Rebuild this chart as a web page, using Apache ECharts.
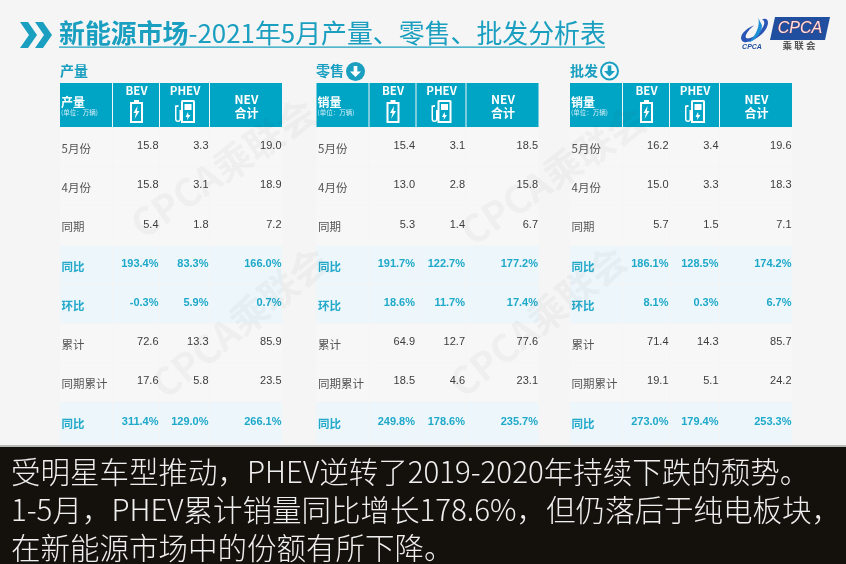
<!DOCTYPE html>
<html>
<head>
<meta charset="utf-8">
<style>html,body{margin:0;padding:0;background:#f5f5f5}#chart{width:846px;height:564px}</style>
<script src="https://cdn.jsdelivr.net/npm/echarts@6/dist/echarts.min.js"></script>
</head>
<body>
<div id="chart"></div>
<script>
const rowLabels = ['5月份', '4月份', '同期', '同比', '环比', '累计', '同期累计', '同比'];
const accentRows = [3, 4, 7];
const columnNames = ['BEV', 'PHEV', 'NEV'];

const tableTitles = ['产量', '零售', '批发'];
const headerNames = ['产量', '销量', '销量'];
const unitLabel = '(单位：万辆)';
const totalLabel = '合计';

const prodBev = ['15.8', '15.8', '5.4', '193.4%', '-0.3%', '72.6', '17.6', '311.4%'];
const prodPhev = ['3.3', '3.1', '1.8', '83.3%', '5.9%', '13.3', '5.8', '129.0%'];
const prodNev = ['19.0', '18.9', '7.2', '166.0%', '0.7%', '85.9', '23.5', '266.1%'];

const retailBev = ['15.4', '13.0', '5.3', '191.7%', '18.6%', '64.9', '18.5', '249.8%'];
const retailPhev = ['3.1', '2.8', '1.4', '122.7%', '11.7%', '12.7', '4.6', '178.6%'];
const retailNev = ['18.5', '15.8', '6.7', '177.2%', '17.4%', '77.6', '23.1', '235.7%'];

const wholesaleBev = ['16.2', '15.0', '5.7', '186.1%', '8.1%', '71.4', '19.1', '273.0%'];
const wholesalePhev = ['3.4', '3.3', '1.5', '128.5%', '0.3%', '14.3', '5.1', '179.4%'];
const wholesaleNev = ['19.6', '18.3', '7.1', '174.2%', '6.7%', '85.7', '24.2', '253.3%'];

const tableColumns = [
    [prodBev, prodPhev, prodNev],
    [retailBev, retailPhev, retailNev],
    [wholesaleBev, wholesalePhev, wholesaleNev]
];

const captionLines = [
    '受明星车型推动，PHEV逆转了2019-2020年持续下跌的颓势。',
    '1-5月，PHEV累计销量同比增长178.6%，但仍落后于纯电板块，',
    '在新能源市场中的份额有所下降。'
];

// layout of the tables, in pixels of the picture
const tableLefts = [60, 316.5, 570];
const tableTop = 83;
const tableWidth = 223;
const tableHeight = 362;
const colEdges = [0, 53, 100, 150, 223];
const rowEdges = [0, 44, 83, 122, 162, 201, 240, 279, 318, 360];

const teal = '#00a4c5';
const titleColor = '#1a9fc0';
const cjk = '"Noto Sans CJK SC"';
const latin = '"Liberation Sans"';

const myChart = echarts.init(document.getElementById('chart'), null, {renderer: 'canvas'});

const batteryPath = 'M4 0H9V2H13V23H0V2H4ZM2 4V21H11V4ZM7.5 6L3.5 13H6L4.5 19L9.5 11H7Z';
const chargerPath = 'M8 0H19A1.5 1.5 0 0 1 20.5 1.5V23H6.5V1.5A1.5 1.5 0 0 1 8 0ZM8.5 2V21H18.5V2ZM10 4H17V10H10ZM13.5 12L11 17H13L12.5 20L16 15H14ZM4 5V7H2V19A1.5 1.5 0 0 0 5 19V10H6.5V19A3 3 0 0 1 0.5 19V5.5Z';

const headerCell = (params, api, tableIndex) => {
    const col = params.dataIndex;
    const p0 = api.coord([colEdges[col], rowEdges[0]]);
    const p1 = api.coord([colEdges[col + 1], rowEdges[1]]);
    const children = [{
        type: 'rect',
        shape: {x: p0[0], y: p0[1], width: p1[0] - p0[0] - 1, height: p1[1] - p0[1]},
        style: {fill: teal}
    }];
    const midX = (p0[0] + p1[0]) / 2;
    if (col === 0) {
        children.push({type: 'text', style: {x: p0[0] + 1, y: p0[1] + 19, text: headerNames[tableIndex], fill: '#fff', font: `bold 12px ${cjk}`, verticalAlign: 'middle'}});
        children.push({type: 'text', style: {x: p0[0] + 1, y: p0[1] + 30, text: unitLabel, fill: '#d5eef5', font: `6.5px ${cjk}`, verticalAlign: 'middle'}});
    } else if (col === 3) {
        children.push({type: 'text', style: {x: midX, y: p0[1] + 16, text: columnNames[2], fill: '#fff', font: `bold 12px ${cjk}`, align: 'center', verticalAlign: 'middle'}});
        children.push({type: 'text', style: {x: midX, y: p0[1] + 30, text: totalLabel, fill: '#fff', font: `bold 12px ${cjk}`, align: 'center', verticalAlign: 'middle'}});
    } else {
        children.push({type: 'text', style: {x: midX, y: p0[1] + 8, text: columnNames[col - 1], fill: '#fff', font: `bold 11.5px ${cjk}`, align: 'center', verticalAlign: 'middle'}});
        const w = col === 1 ? 13 : 21;
        children.push({
            type: 'path',
            shape: {pathData: col === 1 ? batteryPath : chargerPath, x: midX - w / 2, y: p0[1] + 17, width: w, height: 23},
            style: {fill: '#fff'}
        });
    }
    return {type: 'group', children};
};

const bodyCell = (params, api, columns) => {
    const row = params.dataIndex % rowLabels.length;
    const col = Math.floor(params.dataIndex / rowLabels.length);
    const p0 = api.coord([colEdges[col], rowEdges[row + 1]]);
    const p1 = api.coord([colEdges[col + 1], rowEdges[row + 2]]);
    const accent = accentRows.includes(row);
    const children = [{
        type: 'rect',
        shape: {x: p0[0], y: p0[1] + 1, width: p1[0] - p0[0] - 1, height: p1[1] - p0[1] - 1},
        style: {fill: accent ? '#ecf6fb' : '#f7f7f7'}
    }];
    const midY = (p0[1] + p1[1]) / 2;
    if (col === 0) {
        children.push({type: 'text', style: {
            x: p0[0] + 1.5, y: midY + 2, text: rowLabels[row], verticalAlign: 'middle',
            fill: accent ? '#22a9c9' : '#555', font: `${accent ? 'bold ' : ''}11.5px ${cjk}`
        }});
    } else {
        children.push({type: 'text', style: {
            x: p1[0] - 1.5, y: midY - 0.5, text: columns[col - 1][row], align: 'right', verticalAlign: 'middle',
            fill: accent ? '#1fa9c9' : '#3c3c3c', font: `${accent ? 'bold ' : ''}11px ${latin}`
        }});
    }
    return {type: 'group', children};
};

const grid = tableLefts.map(left => ({left, top: tableTop, width: tableWidth, height: tableHeight}));
const xAxis = tableLefts.map((_, i) => ({gridIndex: i, type: 'value', min: 0, max: tableWidth, show: false}));
const yAxis = tableLefts.map((_, i) => ({gridIndex: i, type: 'value', min: 0, max: tableHeight, inverse: true, show: false}));

const series = [];
tableColumns.forEach((columns, i) => {
    series.push({
        type: 'custom', xAxisIndex: i, yAxisIndex: i, silent: true, z: 2,
        data: [0, 1, 2, 3].map(c => [colEdges[c], rowEdges[0]]),
        renderItem: (params, api) => headerCell(params, api, i)
    });
    const cells = [];
    for (let c = 0; c < colEdges.length - 1; c++) {
        rowLabels.forEach((_, r) => cells.push([colEdges[c], rowEdges[r + 1]]));
    }
    series.push({
        type: 'custom', xAxisIndex: i, yAxisIndex: i, silent: true, z: 2,
        data: cells,
        renderItem: (params, api) => bodyCell(params, api, columns)
    });
});

// chevrons, round arrows and the logo need free paths, so they sit in their own series
const downIcon = (cx, cy, ring) => ([
    {type: 'circle', shape: {cx, cy, r: ring ? 8.5 : 9.5}, style: ring ? {fill: '#f5fbfd', stroke: titleColor, lineWidth: 2} : {fill: titleColor}},
    {type: 'path', shape: {pathData: 'M4 0H8V6H12L6 12L0 6H4Z', x: cx - 5.5, y: cy - 6, width: 11, height: 12}, style: {fill: ring ? titleColor : '#fff'}}
]);

series.push({
    type: 'custom', coordinateSystem: 'none', silent: true, z: 5,
    data: [0],
    renderItem: () => ({
        type: 'group',
        children: [
            {type: 'path', shape: {pathData: 'M0 0H8L17 13L8 26H0L9 13ZM15 0H23L32 13L23 26H15L24 13Z', x: 20, y: 22, width: 32, height: 26}, style: {fill: titleColor}},
            ...downIcon(355.5, 71.5, false),
            ...downIcon(609.5, 71, true),
            {type: 'path', shape: {pathData: 'M5 0H60L55 23H0Z', x: 770, y: 17, width: 60, height: 23}, style: {fill: '#1f4f9e'}},
            {type: 'path', shape: {pathData: 'M22 0C30 -3 30 6 24 13C18 20 6 26 2 22C-2 18 4 10 14 6C8 11 4 17 6 19C9 21 17 16 21 11C25 6 26 2 22 0Z', x: 741, y: 17, width: 27, height: 27}, style: {fill: '#2a55b5'}},
            {type: 'path', shape: {pathData: 'M10 0C12 8 8 18 0 26C4 26 14 18 14 8Z', x: 749, y: 17, width: 13, height: 26}, style: {fill: '#1f8fd6'}}
        ]
    })
});

const watermark = (x, y, rotation) => ({
    type: 'text', x, y, rotation, z: 20,
    style: {text: 'CPCA乘联会', fill: 'rgba(60,60,60,0.04)', font: `bold 38px ${cjk}`, align: 'center', verticalAlign: 'middle'}
});

const sideTitle = (x, text) => ({
    type: 'text', z: 5, x, y: 71,
    style: {text, font: `bold 14px ${cjk}`, fill: titleColor, verticalAlign: 'middle'}
});

const graphic = [
    {type: 'text', z: 5, x: 59, y: 33, style: {
        rich: {
            b: {font: `bold 25.9px ${cjk}`, fill: titleColor},
            n: {font: `25.9px ${cjk}`, fill: titleColor}
        },
        text: '{b|新能源市场}{n|-2021年5月产量、零售、批发分析表}',
        verticalAlign: 'middle'
    }},
    {type: 'rect', z: 5, shape: {x: 59, y: 46.5, width: 546, height: 1.2}, style: {fill: titleColor}},
    sideTitle(60, tableTitles[0]),
    sideTitle(316, tableTitles[1]),
    sideTitle(570, tableTitles[2]),
    // logo text
    {type: 'text', z: 6, x: 800, y: 29, style: {text: 'CPCA', font: `italic 16px ${latin}`, fill: '#ffe3e3', stroke: '#c2342f', lineWidth: 0.5, align: 'center', verticalAlign: 'middle'}},
    {type: 'text', z: 6, x: 799, y: 45, style: {text: '乘 联 会', font: `bold 9.5px ${cjk}`, fill: '#555', align: 'center', verticalAlign: 'middle'}},
    {type: 'text', z: 6, x: 752, y: 47, style: {text: 'CPCA', font: `italic bold 7px ${latin}`, fill: '#1f4f9e', align: 'center', verticalAlign: 'middle'}},
    // watermarks
    watermark(223, 168, 0.6),
    watermark(240, 322, 0.68),
    watermark(553, 175, 0.6),
    watermark(538, 321, 0.68),
    // caption
    {type: 'rect', z: 30, shape: {x: 0, y: 445, width: 846, height: 2}, style: {fill: '#b9b9b9'}},
    {type: 'rect', z: 30, shape: {x: 0, y: 447, width: 846, height: 117}, style: {fill: '#14110d'}},
    ...captionLines.map((text, i) => ({
        type: 'text', z: 31, x: 11, y: [472, 510, 548][i],
        style: {text, font: `300 29.5px ${cjk}`, fill: '#efefef', verticalAlign: 'middle'}
    }))
];

const option = {
    animation: false,
    backgroundColor: '#f5f5f5',
    grid,
    xAxis,
    yAxis,
    series,
    graphic: {elements: graphic}
};
myChart.setOption(option);
</script>
</body>
</html>
